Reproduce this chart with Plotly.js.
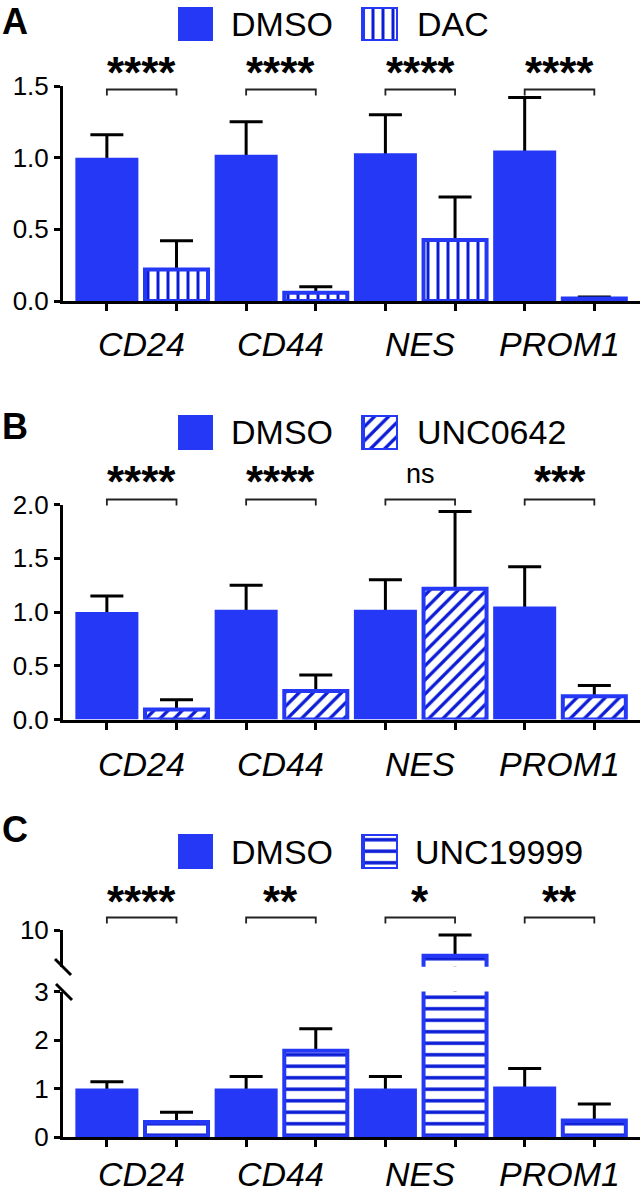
<!DOCTYPE html>
<html>
<head>
<meta charset="utf-8">
<script src="https://cdn.plot.ly/plotly-3.0.1.min.js"></script>
<style>html,body{margin:0;padding:0;background:#fff;}#chart{width:640px;height:1195px;}</style>
</head>
<body>
<div id="chart"></div>
<script>
// ---------- DATA ----------
const categories = ['CD24', 'CD44', 'NES', 'PROM1'];

const seriesNamesA = ['DMSO', 'DAC'];
const dmsoA   = [1.00, 1.02, 1.03, 1.05];
const dmsoSdA = [0.16, 0.23, 0.27, 0.37];
const dacA    = [0.22, 0.058, 0.425, 0.017];
const dacSdA  = [0.20, 0.042, 0.30, 0.011];
const sigA    = ['****', '****', '****', '****'];
const yTicksA = [0, 0.5, 1.0, 1.5];

const seriesNamesB = ['DMSO', 'UNC0642'];
const dmsoB   = [1.00, 1.02, 1.02, 1.05];
const dmsoSdB = [0.15, 0.23, 0.28, 0.37];
const uncB    = [0.093, 0.264, 1.216, 0.217];
const uncSdB  = [0.09, 0.15, 0.72, 0.10];
const sigB    = ['****', '****', 'ns', '***'];
const yTicksB = [0, 0.5, 1.0, 1.5, 2.0];

const seriesNamesC = ['DMSO', 'UNC19999'];
const dmsoC   = [1.00, 1.00, 1.00, 1.04];
const dmsoSdC = [0.14, 0.25, 0.25, 0.37];
const uncC    = [0.31, 1.78, 5.8, 0.34];
const uncSdC  = [0.20, 0.45, 3.4, 0.34];
const sigC    = ['****', '**', '*', '**'];
const yTicksCLow = [0, 1, 2, 3];
const yTicksCUp  = [10];

// ---------- STYLE / LAYOUT HELPERS ----------
const W = 640, H = 1195;
const P = v => 1 - v / H;    // pixel row -> paper y
const X = v => v / W;        // pixel col -> paper x
const BLUE = '#2438F5';
const STRIPE = '#0B1CD6';
const FONT = 'Liberation Sans, Arial, Helvetica, sans-serif';
const nSeries = 2;
const idx = categories.map((c, i) => i);
const slotOffsets = [0, 1].map(k => (k + 0.5) / nSeries - 0.5);
const barCenters = idx.flatMap(i => slotOffsets.map(o => i + o));
const xRange = [-0.565, 3.578];
const xDomain = [X(63), 1];

const patterns = {
  A: {shape: '|', size: 10, solidity: 0.3},
  B: {shape: '/', size: 10, solidity: 0.33},
  C: {shape: '-', size: 11.5, solidity: 0.3}
};

function errCarrier(xa, ya, vals, sds, group, ag) {
  return {
    type: 'bar', x: idx, y: vals, xaxis: xa, yaxis: ya,
    offsetgroup: group, alignmentgroup: ag,
    marker: {color: 'rgba(0,0,0,0)', line: {width: 0}},
    error_y: {type: 'data', symmetric: false, array: sds,
              arrayminus: vals.map((v, i) => Math.min(sds[i], v)),
              color: '#000', thickness: 3, width: 16.5},
    hoverinfo: 'skip', showlegend: false
  };
}
function solidBars(xa, ya, vals, name, ag) {
  return {type: 'bar', name: name, x: idx, y: vals, xaxis: xa, yaxis: ya,
          offsetgroup: 'a', alignmentgroup: ag,
          marker: {color: BLUE, line: {width: 0}}, showlegend: false};
}
function patternMarker(pat) {
  return {color: 'white', line: {color: BLUE, width: 4},
          pattern: {shape: pat.shape, size: pat.size, solidity: pat.solidity,
                    fgcolor: STRIPE, bgcolor: 'white', fillmode: 'replace'}};
}
function patternBars(xa, ya, vals, name, ag, pat) {
  return {type: 'bar', name: name, x: idx, y: vals, xaxis: xa, yaxis: ya,
          offsetgroup: 'b', alignmentgroup: ag,
          marker: patternMarker(pat), showlegend: false};
}
function legendSwatches(xa, ya, pat) {
  return [
    {type: 'bar', x: [0], y: [1], width: 0.189, offset: -0.0945, xaxis: xa, yaxis: ya,
     marker: {color: BLUE, line: {width: 0}}, hoverinfo: 'skip', showlegend: false},
    {type: 'bar', x: [1], y: [1], width: 0.189, offset: -0.0945, xaxis: xa, yaxis: ya,
     marker: patternMarker(pat), hoverinfo: 'skip', showlegend: false}
  ];
}

const traces = [
  errCarrier('x', 'y', dmsoA, dmsoSdA, 'a', 'A'),
  errCarrier('x', 'y', dacA, dacSdA, 'b', 'A'),
  solidBars('x', 'y', dmsoA, seriesNamesA[0], 'A'),
  patternBars('x', 'y', dacA, seriesNamesA[1], 'A', patterns.A),

  errCarrier('x2', 'y2', dmsoB, dmsoSdB, 'a', 'B'),
  errCarrier('x2', 'y2', uncB, uncSdB, 'b', 'B'),
  solidBars('x2', 'y2', dmsoB, seriesNamesB[0], 'B'),
  patternBars('x2', 'y2', uncB, seriesNamesB[1], 'B', patterns.B),

  errCarrier('x3', 'y3', dmsoC, dmsoSdC, 'a', 'C'),
  errCarrier('x3', 'y3', uncC, uncSdC, 'b', 'C'),
  solidBars('x3', 'y3', dmsoC, seriesNamesC[0], 'C'),
  patternBars('x3', 'y3', uncC, seriesNamesC[1], 'C', patterns.C),

  errCarrier('x4', 'y4', dmsoC, dmsoSdC, 'a', 'D'),
  errCarrier('x4', 'y4', uncC, uncSdC, 'b', 'D'),
  solidBars('x4', 'y4', dmsoC, seriesNamesC[0], 'D'),
  patternBars('x4', 'y4', uncC, seriesNamesC[1], 'D', patterns.C),

  ...legendSwatches('x5', 'y5', patterns.A),
  ...legendSwatches('x6', 'y6', patterns.B),
  ...legendSwatches('x7', 'y7', patterns.C)
];

function xAxis(anchor, visible) {
  return {domain: xDomain, range: xRange, anchor: anchor, type: 'linear',
          visible: visible, showline: true, linewidth: 3, linecolor: '#000',
          ticks: 'outside', ticklen: 7, tickwidth: 3, tickcolor: '#000',
          tickmode: 'array', tickvals: barCenters, showticklabels: false,
          showgrid: false, zeroline: false, fixedrange: true};
}
function yAxis(anchor, domain, range, tickvals, fmt) {
  return {domain: domain, range: range, anchor: anchor,
          showline: true, linewidth: 3, linecolor: '#000',
          ticks: 'outside', ticklen: 6, tickwidth: 3, tickcolor: '#000',
          tickmode: 'array', tickvals: tickvals, tickformat: fmt,
          tickfont: {family: FONT, size: 26, color: '#000'},
          showgrid: false, zeroline: false, fixedrange: true};
}
function legAxes(top, bottom, n) {
  return [
    {domain: [X(178), X(398)], range: [-0.0946, 1.0946], visible: false, fixedrange: true, anchor: 'y' + n},
    {domain: [P(bottom), P(top)], range: [0, 1], visible: false, fixedrange: true, anchor: 'x' + n}
  ];
}

const [lx5, ly5] = legAxes(7, 41, 5);
const [lx6, ly6] = legAxes(415, 450, 6);
const [lx7, ly7] = legAxes(834, 869, 7);

const annotations = [];
const shapes = [];

function panelText(letter, yc, names, y0, x1) {
  const atTop = yc < 30;
  annotations.push({text: '<b>' + letter + '</b>', xref: 'paper', yref: 'paper',
    x: X(1), y: atTop ? 1 : P(yc), xanchor: 'left', yanchor: atTop ? 'top' : 'middle',
    borderpad: 0, showarrow: false,
    font: {family: FONT, size: 36, color: '#000'}});
  annotations.push({text: names[0], xref: 'paper', yref: 'paper',
    x: X(229), y: P(y0), xanchor: 'left', yanchor: 'middle', showarrow: false,
    font: {family: FONT, size: 34, color: '#000'}});
  annotations.push({text: names[1], xref: 'paper', yref: 'paper',
    x: X(x1), y: P(y0), xanchor: 'left', yanchor: 'middle', showarrow: false,
    font: {family: FONT, size: 34, color: '#000'}});
}
function sigMarks(xa, sig, starY, brY) {
  sig.forEach((s, i) => {
    const isNs = s === 'ns';
    annotations.push({text: isNs ? s : '<b>' + s + '</b>', xref: xa, yref: 'paper',
      x: i, y: P(isNs ? starY - 4 : starY + 3), xanchor: 'center', yanchor: 'middle', showarrow: false,
      font: {family: FONT, size: isNs ? 27 : 44, color: '#000'}});
    const a = i + slotOffsets[0], b = i + slotOffsets[1];
    shapes.push({type: 'path', xref: xa, yref: 'paper',
      path: `M${a},${P(brY + 6)} L${a},${P(brY)} L${b},${P(brY)} L${b},${P(brY + 6)}`,
      line: {color: '#222', width: 1.8}});
  });
}
function catLabels(xa, yc) {
  categories.forEach((c, i) => {
    annotations.push({text: '<i>' + c + '</i>', xref: xa, yref: 'paper',
      x: i, y: P(yc), xanchor: 'center', yanchor: 'middle', showarrow: false,
      borderpad: 0,
      font: {family: FONT, size: 34, color: '#000'}});
  });
}

panelText('A', 18, seriesNamesA, 24, 415);
panelText('B', 426, seriesNamesB, 432, 415);
panelText('C', 829, seriesNamesC, 852, 413);
sigMarks('x', sigA, 70, 89.5);
sigMarks('x2', sigB, 478, 499.5);
sigMarks('x3', sigC, 898, 917.5);
catLabels('x', 344);
catLabels('x2', 764);
catLabels('x3', 1174);

// axis break marks
shapes.push({type: 'line', xref: 'paper', yref: 'paper', x0: X(55), y0: P(959), x1: X(71), y1: P(975),
  line: {color: '#000', width: 3}});
shapes.push({type: 'line', xref: 'paper', yref: 'paper', x0: X(56), y0: P(984), x1: X(72), y1: P(1000),
  line: {color: '#000', width: 3}});

const layout = {
  width: W, height: H, margin: {l: 0, r: 0, t: 0, b: 0},
  paper_bgcolor: '#fff', plot_bgcolor: 'rgba(0,0,0,0)',
  showlegend: false, barmode: 'group', bargap: 0, bargroupgap: 0.095,
  font: {family: FONT, color: '#000'},
  xaxis: xAxis('y', true),
  yaxis: yAxis('x', [P(301), P(86)], [0, 1.5], yTicksA, '.1f'),
  xaxis2: xAxis('y2', true),
  yaxis2: yAxis('x2', [P(719.5), P(504.5)], [0, 2.0], yTicksB, '.1f'),
  xaxis3: xAxis('y3', true),
  yaxis3: yAxis('x3', [P(1137), P(991.5)], [0, 3], yTicksCLow, 'd'),
  xaxis4: xAxis('y4', false),
  yaxis4: yAxis('x4', [P(966.7), P(930)], [4, 10], yTicksCUp, 'd'),
  xaxis5: lx5, yaxis5: ly5,
  xaxis6: lx6, yaxis6: ly6,
  xaxis7: lx7, yaxis7: ly7,
  annotations: annotations,
  shapes: shapes
};

Plotly.newPlot('chart', traces, layout, {staticPlot: true, displayModeBar: false});
</script>
</body>
</html>
